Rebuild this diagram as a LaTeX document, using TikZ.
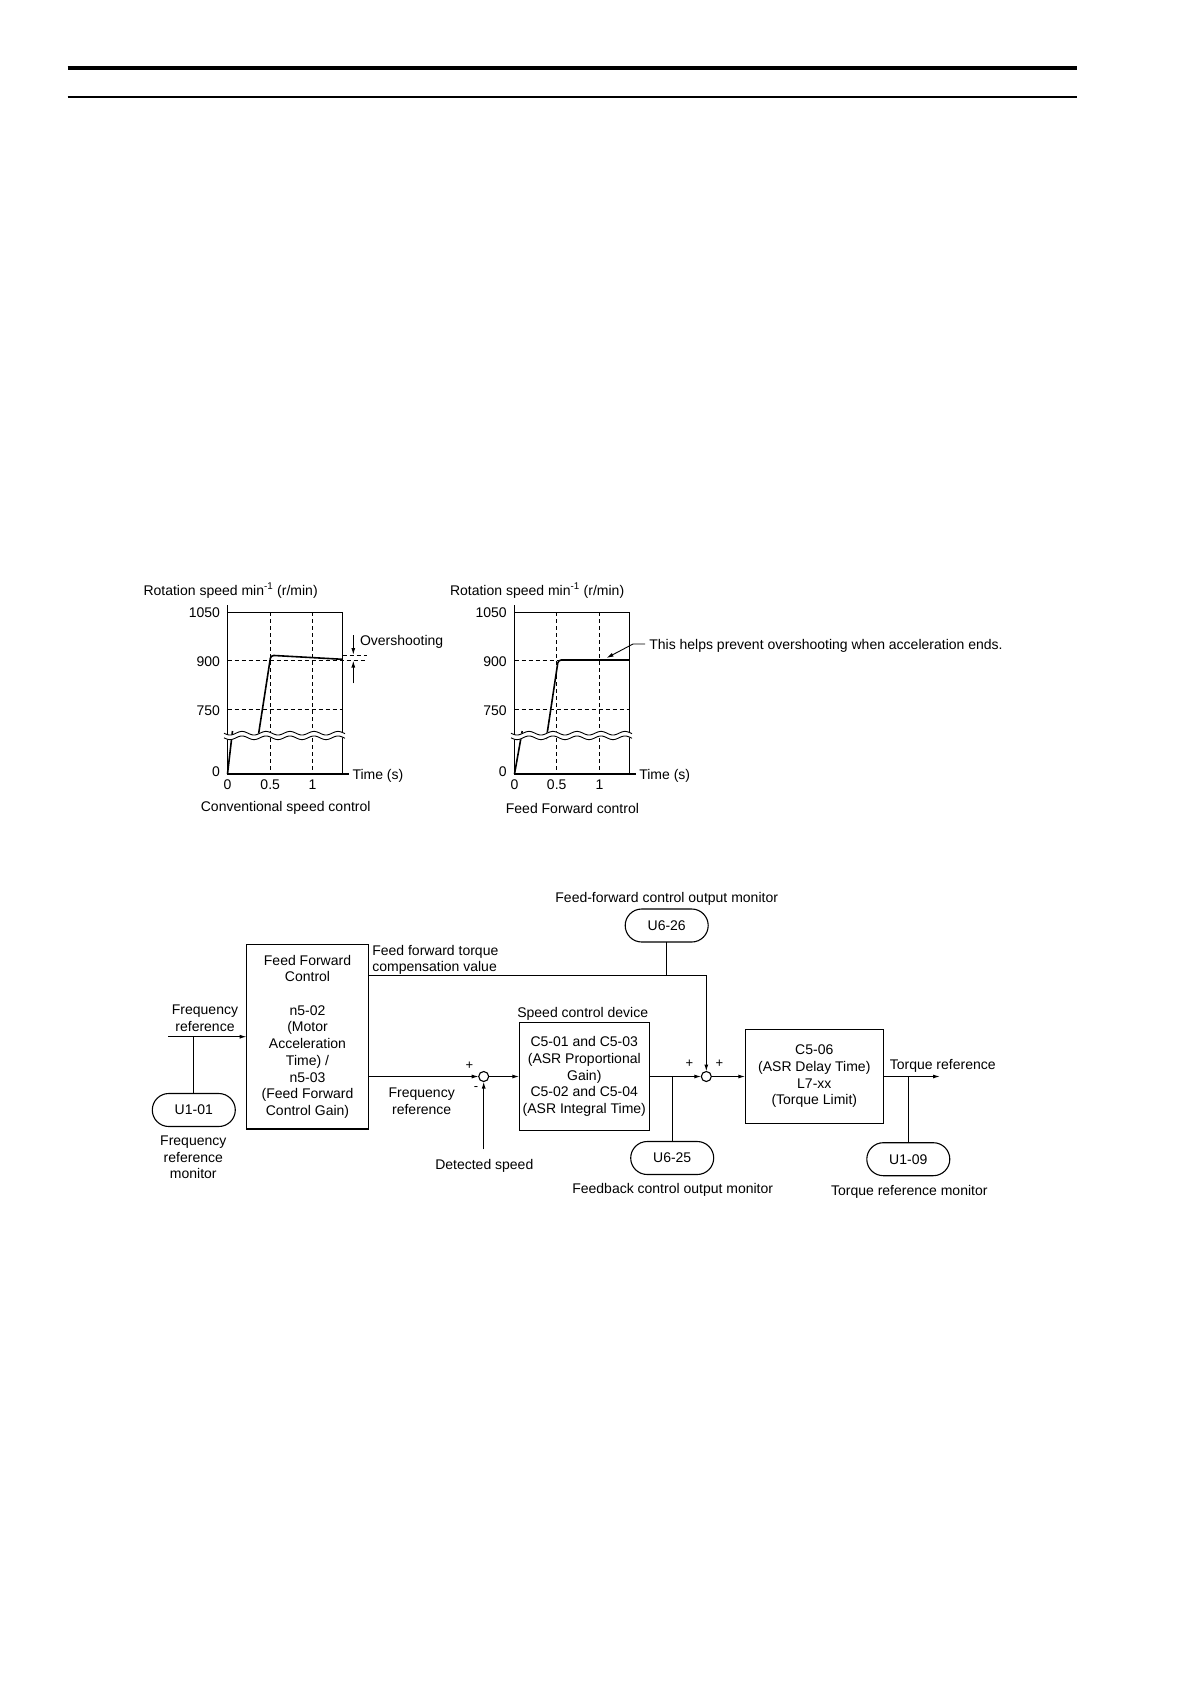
\documentclass[tikz,border=0pt]{standalone}
\usepackage{fontspec}
\setmainfont{Liberation Sans}
\usetikzlibrary{arrows.meta,shapes.misc,calc}
\begin{document}
\begin{tikzpicture}[x=1pt,y=-1pt,
  font=\fontsize{14}{16.7}\selectfont,
  every node/.style={inner sep=0pt,outer sep=0pt},
  tx/.style={yshift=-1.5pt},
  ln/.style={line width=1.1pt},
  arr/.style={line width=1.1pt,-{Latex[length=7pt,width=4pt]}},
  blk/.style={draw,line width=1.2pt,align=center},
  mon/.style={draw,rounded rectangle,line width=1.1pt,minimum width=83pt,minimum height=33pt},
  sumpt/.style={draw,circle,line width=1.1pt,minimum size=10pt},
  lbl/.style={align=center,yshift=-1.5pt},
  sgn/.style={font=\fontsize{13}{15}\selectfont},
  dsh/.style={line width=1pt,dash pattern=on 4pt off 3pt},
  axisln/.style={line width=1.2pt},
  crv/.style={line width=1.6pt,line join=round},
  wavy/.style={line width=0.9pt}
]
\fill[white] (0,0) rectangle (1191,1684);
\useasboundingbox (0,0) rectangle (1191,1684);

% header rules
\draw[line width=4pt] (67.7,67.7) -- (1077,67.7);
\draw[line width=2pt] (67.7,96.7) -- (1077,96.7);

% ---------------- Chart 1 ----------------
\draw[dsh] (270.2,612.3) -- (270.2,774);
\draw[dsh] (312.5,612.3) -- (312.5,774);
\draw[dsh] (227.5,660) -- (367,660);
\draw[dsh] (227.5,709.3) -- (342.7,709.3);
\draw[dsh] (342.7,655) -- (367,655);
\draw[axisln] (227.5,605) -- (227.5,774) -- (349,774);
\draw[axisln] (227.5,612.3) -- (342.7,612.3) -- (342.7,774);
\draw[crv] (227.5,774) -- (232.5,731);
\draw[crv,rounded corners=3pt] (257.8,739) -- (270.8,655.3) -- (342.7,659.3);
\draw[white,line width=5pt] plot[domain=224:345,samples=121] (\x,{735.5+1.8*sin(15*(\x-224))});
\draw[wavy] plot[domain=224:345,samples=121] (\x,{733.2+1.8*sin(15*(\x-224))});
\draw[wavy] plot[domain=224:345,samples=121] (\x,{737.8+1.8*sin(15*(\x-224))});
\draw[arr] (353.3,635) -- (353.3,655);
\draw[arr] (353.3,683.3) -- (353.3,660.5);

\node[tx,anchor=west] (c1title) at (143.5,589) {Rotation speed min\textsuperscript{-1} (r/min)};
\node[tx,anchor=east] (c1y1050) at (220,611) {1050};
\node[tx,anchor=east] (c1y900) at (220,660) {900};
\node[tx,anchor=east] (c1y750) at (220,709.3) {750};
\node[tx,anchor=east] (c1y0) at (220,770) {0};
\node[tx] (c1x0) at (227.5,783.5) {0};
\node[tx] (c1x05) at (270.2,783.5) {0.5};
\node[tx] (c1x1) at (312.5,783.5) {1};
\node[tx,anchor=west] (c1time) at (352.5,774) {Time (s)};
\node[tx,anchor=west] (c1over) at (360,640) {Overshooting};
\node[tx] (c1cap) at (285.7,806.5) {Conventional speed control};

% ---------------- Chart 2 ----------------
\draw[dsh] (556.7,612.3) -- (556.7,774);
\draw[dsh] (599.5,612.3) -- (599.5,774);
\draw[dsh] (514.5,660) -- (629.3,660);
\draw[dsh] (514.5,709.3) -- (629.3,709.3);
\draw[axisln] (514.5,605) -- (514.5,774) -- (636,774);
\draw[axisln] (514.5,612.3) -- (629.3,612.3) -- (629.3,774);
\draw[crv] (514.5,774) -- (522.2,731);
\draw[crv,rounded corners=3pt] (546.3,739) -- (558.2,660) -- (629.3,660);
\draw[white,line width=5pt] plot[domain=511:632,samples=121] (\x,{735.5+1.8*sin(15*(\x-511))});
\draw[wavy] plot[domain=511:632,samples=121] (\x,{733.2+1.8*sin(15*(\x-511))});
\draw[wavy] plot[domain=511:632,samples=121] (\x,{737.8+1.8*sin(15*(\x-511))});
\draw[line width=0.9pt,-{Latex[length=7pt,width=4pt]}] (645,644) -- (633,644) -- (606.5,658);

\node[tx,anchor=west] (c2title) at (450,589) {Rotation speed min\textsuperscript{-1} (r/min)};
\node[tx,anchor=east] (c2y1050) at (506.7,611) {1050};
\node[tx,anchor=east] (c2y900) at (506.7,660) {900};
\node[tx,anchor=east] (c2y750) at (506.7,709.3) {750};
\node[tx,anchor=east] (c2y0) at (506.7,770) {0};
\node[tx] (c2x0) at (514.5,783.5) {0};
\node[tx] (c2x05) at (556.7,783.5) {0.5};
\node[tx] (c2x1) at (599.5,783.5) {1};
\node[tx,anchor=west] (c2time) at (639.3,774) {Time (s)};
\node[tx,anchor=west] (c2note) at (649.3,644) {This helps prevent overshooting when acceleration ends.};
\node[tx] (c2cap) at (572.4,806.5) {Feed Forward control};

% ---------------- Block diagram ----------------
\node[blk,minimum width=121.6pt,minimum height=184.7pt] (ff) at (307.5,1036.7)
  {Feed Forward\\Control\\[16.7pt]n5-02\\(Motor\\Acceleration\\Time) /\\n5-03\\(Feed Forward\\Control Gain)};
\node[blk,minimum width=130pt,minimum height=107.3pt] (sc) at (584.3,1076.5)
  {C5-01 and C5-03\\(ASR Proportional\\Gain)\\C5-02 and C5-04\\(ASR Integral Time)};
\node[blk,minimum width=138pt,minimum height=94pt] (dl) at (814.3,1076.5)
  {C5-06\\(ASR Delay Time)\\L7-xx\\(Torque Limit)};

\node[mon] (u101) at (193.8,1110) {U1-01};
\node[mon] (u626) at (666.7,925.5) {U6-26};
\node[mon] (u625) at (672.2,1158) {U6-25};
\node[mon] (u109) at (908.3,1159.2) {U1-09};

\node[sumpt] (s1) at (483.7,1076.5) {};
\node[sumpt] (s2) at (706.3,1076.5) {};

\coordinate (fin) at (168.3,1036.7);
\coordinate (j1) at (193.5,1036.7);
\coordinate (ffo) at (368.3,975.7);
\coordinate (j626) at (666.7,975.7);
\coordinate (ds) at (483.7,1149.3);
\coordinate (j625) at (672.3,1076.5);
\coordinate (j109) at (908.3,1076.5);
\coordinate (tout) at (940,1076.5);

\draw[arr] (fin) -- (ff.west |- fin);
\draw[ln] (j1) -- (j1 |- u101.north);
\draw[arr] (ffo) -| (s2.north);
\draw[ln] (u626.south) -- (j626);
\draw[arr] (ff.east |- s1) -- (s1.west);
\draw[arr] (ds) -- (s1.south);
\draw[arr] (s1.east) -- (sc.west);
\draw[arr] (sc.east) -- (s2.west);
\draw[ln] (j625) -- (j625 |- u625.north);
\draw[arr] (s2.east) -- (dl.west);
\draw[arr] (dl.east) -- (tout);
\draw[ln] (j109) -- (j109 |- u109.north);

\node[lbl] (tfr1) at (205,1016.7) {Frequency\\reference};
\node[lbl] (tfrm) at (193.3,1156) {Frequency\\reference\\monitor};
\node[tx,align=left,anchor=west] (tff) at (372.3,958.3) {Feed forward torque\\compensation value};
\node[lbl] (tfr2) at (421.7,1100) {Frequency\\reference};
\node[sgn] (p1) at (469.3,1066) {+};
\node[sgn] (m1) at (476,1088.3) {-};
\node[tx] (tds) at (484.3,1164) {Detected speed};
\node[tx] (tscd) at (582.7,1012.3) {Speed control device};
\node[sgn] (p2) at (689.3,1064) {+};
\node[sgn] (p3) at (719.3,1064) {+};
\node[tx] (tffm) at (666.7,897.5) {Feed-forward control output monitor};
\node[tx] (tfbm) at (672.7,1188.3) {Feedback control output monitor};
\node[tx] (ttr) at (942.7,1064.3) {Torque reference};
\node[tx] (ttrm) at (909.3,1190) {Torque reference monitor};
\end{tikzpicture}
\end{document}
